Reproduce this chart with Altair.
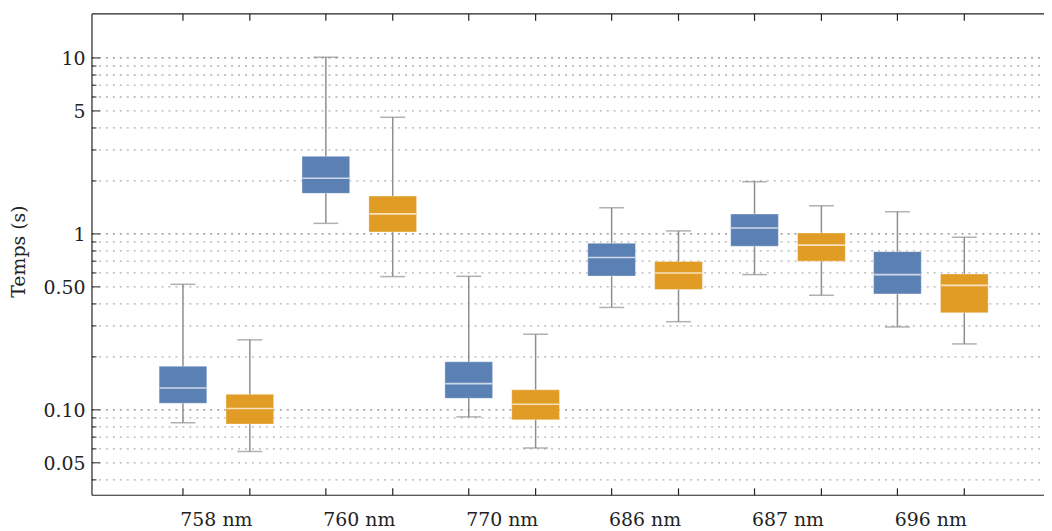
import altair as alt
import pandas as pd

# ---- data ----
categories = ["758 nm", "760 nm", "770 nm", "686 nm", "687 nm", "696 nm"]
series_names = ["série 1", "série 2"]
series_colors = ["#5b80b4", "#e09c25"]

blue_lo = [0.0845, 1.148, 0.0912, 0.382, 0.587, 0.296]
blue_q1 = [0.109, 1.70, 0.1163, 0.576, 0.851, 0.456]
blue_med = [0.133, 2.07, 0.141, 0.735, 1.081, 0.587]
blue_q3 = [0.177, 2.76, 0.1875, 0.885, 1.297, 0.793]
blue_hi = [0.517, 10.1, 0.574, 1.408, 1.98, 1.337]

orange_lo = [0.058, 0.572, 0.0607, 0.317, 0.448, 0.237]
orange_q1 = [0.083, 1.026, 0.0878, 0.483, 0.700, 0.356]
orange_med = [0.1017, 1.30, 0.1076, 0.599, 0.863, 0.51]
orange_q3 = [0.1225, 1.64, 0.130, 0.698, 1.013, 0.592]
orange_hi = [0.250, 4.6, 0.269, 1.04, 1.445, 0.957]

y_title = "Temps (s)"
labeled_ticks = [0.05, 0.1, 0.5, 1, 5, 10]
labeled_text = ["0.05", "0.10", "0.50", "1", "5", "10"]
decade_ticks = [0.1, 1, 10]
grid_ticks = [0.04, 0.05, 0.06, 0.07, 0.08, 0.09,
              0.1, 0.2, 0.3, 0.4, 0.5, 0.6, 0.7, 0.8, 0.9,
              1, 2, 3, 4, 5, 6, 7, 8, 9, 10]

# ---- layout ----
W, H = 958, 484.4
OFF = 0.234
FONT = "DejaVu Serif"
FS = 19
INK = "#222"
WHISKER = "#8e8e8e"

rows = []
stats = [
    (blue_lo, blue_q1, blue_med, blue_q3, blue_hi),
    (orange_lo, orange_q1, orange_med, orange_q3, orange_hi),
]
for si, (lo, q1, med, q3, hi) in enumerate(stats):
    for gi, cat in enumerate(categories):
        rows.append(dict(cat=cat, series=series_names[si],
                         pos=gi + (-OFF if si == 0 else OFF),
                         lo=lo[gi], q1=q1[gi], med=med[gi], q3=q3[gi], hi=hi[gi]))
box_df = pd.DataFrame(rows)

grid_df = pd.DataFrame({
    "v": grid_ticks,
    "major": [v in decade_ticks for v in grid_ticks],
    "labeled": [v in labeled_ticks for v in grid_ticks],
})
ylab_df = pd.DataFrame({"v": labeled_ticks, "t": labeled_text})
cat_df = pd.DataFrame({"cat": categories, "c": list(range(len(categories)))})
one = pd.DataFrame({"a": [0]})

yscale = alt.Scale(type="log", domain=[0.0327, 17.8], nice=False)
xscale = alt.Scale(domain=[-0.836, 5.757], nice=False, zero=False)

grid = alt.Chart(grid_df).mark_rule(strokeDash=[2, 5], strokeWidth=1.3).encode(
    y=alt.Y("v:Q", scale=yscale, axis=None),
    x=alt.value(0), x2=alt.value(W),
    color=alt.condition("datum.major", alt.value("#858585"), alt.value("#b0b0b0")),
)

ltick_major = alt.Chart(grid_df).transform_filter("datum.labeled").mark_rule(
    color=INK, strokeWidth=1).encode(
    y=alt.Y("v:Q", scale=yscale, axis=None), x=alt.value(0), x2=alt.value(8))
ltick_minor = alt.Chart(grid_df).transform_filter("!datum.labeled").mark_rule(
    color=INK, strokeWidth=1).encode(
    y=alt.Y("v:Q", scale=yscale, axis=None), x=alt.value(0), x2=alt.value(4.5))

ylabels = alt.Chart(ylab_df).mark_text(font=FONT, fontSize=FS, color=INK,
                                       align="right", baseline="middle", dy=1).encode(
    y=alt.Y("v:Q", scale=yscale, axis=None), x=alt.value(-6.5), text="t:N")
ytitle = alt.Chart(one).mark_text(font=FONT, fontSize=FS, color=INK, angle=270,
                                  align="center", baseline="middle").encode(
    x=alt.value(-73), y=alt.value(H / 2 - 3), text=alt.value(y_title))

base = alt.Chart(box_df)

whisk = base.mark_rule(color=WHISKER, strokeWidth=1.5).encode(
    x=alt.X("pos:Q", scale=xscale, axis=None),
    y=alt.Y("lo:Q", scale=yscale, axis=None), y2="hi:Q")
cap_lo = base.mark_tick(orient="horizontal", size=25, thickness=1.5, color=WHISKER).encode(
    x=alt.X("pos:Q", scale=xscale, axis=None),
    y=alt.Y("lo:Q", scale=yscale, axis=None))
cap_hi = base.mark_tick(orient="horizontal", size=25, thickness=1.5, color=WHISKER).encode(
    x=alt.X("pos:Q", scale=xscale, axis=None),
    y=alt.Y("hi:Q", scale=yscale, axis=None))
boxes = base.mark_bar(size=48, stroke="white", strokeOpacity=0.35, strokeWidth=1).encode(
    x=alt.X("pos:Q", scale=xscale, axis=None),
    y=alt.Y("q1:Q", scale=yscale, axis=None), y2="q3:Q",
    color=alt.Color("series:N", scale=alt.Scale(domain=series_names, range=series_colors),
                    legend=None))
medians = base.mark_tick(orient="horizontal", size=47, thickness=1.6, color="white").encode(
    x=alt.X("pos:Q", scale=xscale, axis=None),
    y=alt.Y("med:Q", scale=yscale, axis=None))

top_ticks = base.mark_rule(color=INK, strokeWidth=1.2).encode(
    x=alt.X("pos:Q", scale=xscale, axis=None), y=alt.value(0), y2=alt.value(7))
bot_ticks = base.mark_rule(color=INK, strokeWidth=1.2).encode(
    x=alt.X("pos:Q", scale=xscale, axis=None), y=alt.value(H), y2=alt.value(H - 7))

top_frame = alt.Chart(one).mark_rule(color=INK, strokeWidth=1.2).encode(
    x=alt.value(0), x2=alt.value(W), y=alt.value(0))
bottom_frame = alt.Chart(one).mark_rule(color=INK, strokeWidth=1.2).encode(
    x=alt.value(0), x2=alt.value(W), y=alt.value(H))
left_frame = alt.Chart(one).mark_rule(color=INK, strokeWidth=1.2).encode(
    x=alt.value(0), y=alt.value(0), y2=alt.value(H))

xlabels = alt.Chart(cat_df).mark_text(font=FONT, fontSize=FS, color=INK,
                                      baseline="alphabetic", align="center").encode(
    x=alt.X("c:Q", scale=xscale, axis=None), y=alt.value(H + 31), text="cat:N")

chart = alt.layer(
    grid, ltick_major, ltick_minor, whisk, cap_lo, cap_hi, boxes, medians,
    top_ticks, bot_ticks, top_frame, bottom_frame, left_frame,
    ylabels, ytitle, xlabels,
).properties(
    width=W, height=H,
    padding={"left": 84.5, "top": 4.3, "right": 0, "bottom": 34},
    autosize=alt.AutoSizeParams(type="none"),
).configure_view(stroke=None)

chart.save("out.html", embed_options={"renderer": "svg", "actions": False})
